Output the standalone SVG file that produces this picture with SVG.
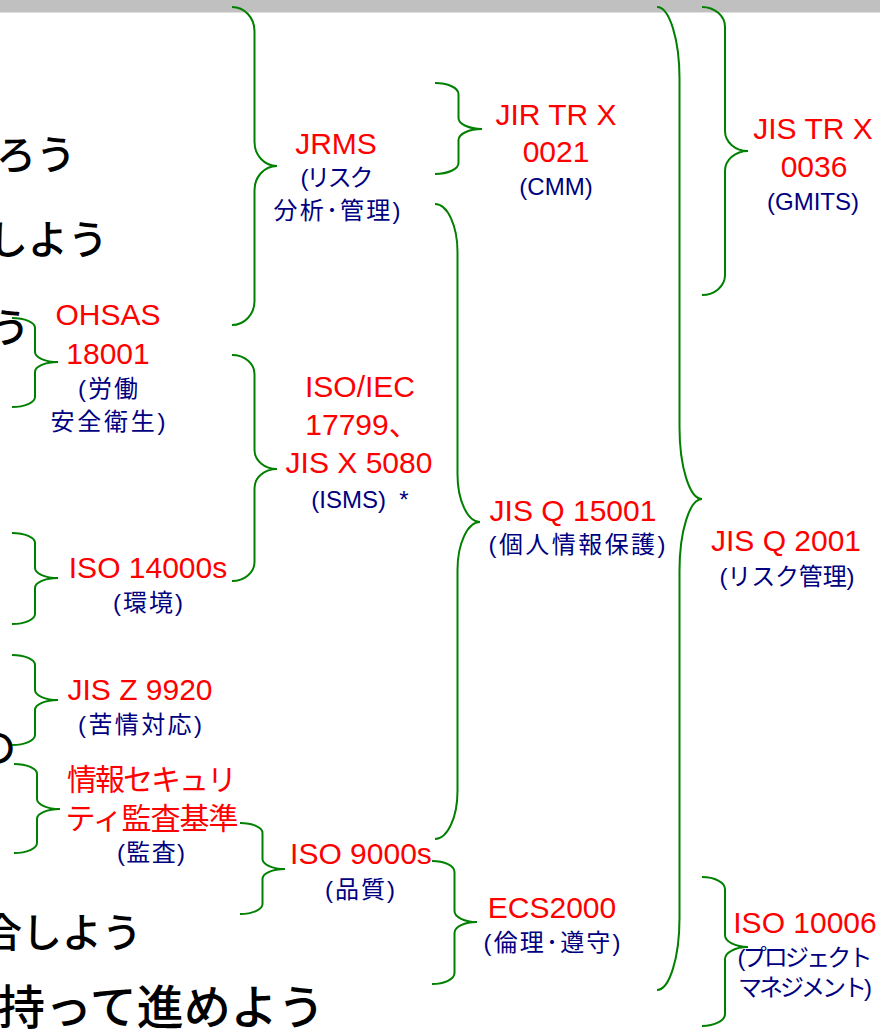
<svg xmlns="http://www.w3.org/2000/svg" width="888" height="1032" viewBox="0 0 888 1032">
<style>
.red{font-family:"Liberation Sans","Noto Sans CJK JP",sans-serif;font-size:30px;fill:#FF0000;text-anchor:middle}
.navy{font-family:"Liberation Sans","Noto Sans CJK JP",sans-serif;font-size:24px;fill:#000080;text-anchor:middle}
.big{font-family:"Noto Sans CJK JP",sans-serif;font-size:40px;font-weight:500;fill:#000000}
.brace{fill:none;stroke:#008000;stroke-width:2}
</style>
<rect x="0" y="0" width="880" height="12.5" fill="#C0C0C0"/>
<g id="slide-text">
<text class="big" x="-4" y="169">ろう</text>
<text class="big" x="-12" y="254">しよう</text>
<text class="big" x="-10" y="342">う</text>
<text class="big" x="-24" y="762">の</text>
<text class="big" x="-18" y="947">合しよう</text>
<text class="big" x="-2" y="1024" style="font-size:47px">持って進めよう</text>
</g>
<g id="connectors">
<path class="brace" d="M232,7 A22.5,24 0 0 1 254.5,31 L254.5,142 A22.5,24 0 0 0 277,166 A22.5,24 0 0 0 254.5,190 L254.5,301 A22.5,24 0 0 1 232,325"/>
<path class="brace" d="M12,318 A23,10 0 0 1 35,328 L35,352 A23,10 0 0 0 58,362 A23,10 0 0 0 35,372 L35,397 A23,10 0 0 1 12,407"/>
<path class="brace" d="M12,533 A23,10 0 0 1 35,543 L35,568 A23,10 0 0 0 58,578 A23,10 0 0 0 35,588 L35,614 A23,10 0 0 1 12,624"/>
<path class="brace" d="M12,655 A23,10 0 0 1 35,665 L35,690 A23,10 0 0 0 58,700 A23,10 0 0 0 35,710 L35,735 A23,10 0 0 1 12,745"/>
<path class="brace" d="M14,764 A23,10 0 0 1 37,774 L37,799 A23,10 0 0 0 60,809 A23,10 0 0 0 37,819 L37,843 A23,10 0 0 1 14,853"/>
<path class="brace" d="M232,355 A22.5,19 0 0 1 254.5,374 L254.5,450 A22.5,19 0 0 0 277,469 A22.5,19 0 0 0 254.5,488 L254.5,562 A22.5,19 0 0 1 232,581"/>
<path class="brace" d="M240,823 A22.5,10 0 0 1 262.5,833 L262.5,859 A22.5,10 0 0 0 285,869 A22.5,10 0 0 0 262.5,879 L262.5,904 A22.5,10 0 0 1 240,914"/>
<path class="brace" d="M435,83 A23.5,11 0 0 1 458.5,94 L458.5,118 A23.5,11 0 0 0 482,129 A23.5,11 0 0 0 458.5,140 L458.5,163 A23.5,11 0 0 1 435,174"/>
<path class="brace" d="M435,204 A22.5,48 0 0 1 457.5,252 L457.5,474 A22.5,48 0 0 0 480,522 A22.5,48 0 0 0 457.5,570 L457.5,791 A22.5,48 0 0 1 435,839"/>
<path class="brace" d="M432,861 A22.5,11 0 0 1 454.5,872 L454.5,911 A22.5,11 0 0 0 477,922 A22.5,11 0 0 0 454.5,933 L454.5,973 A22.5,11 0 0 1 432,984"/>
<path class="brace" d="M657,7 A22.5,72 0 0 1 679.5,79 L679.5,427 A22.5,72 0 0 0 702,499 A22.5,72 0 0 0 679.5,571 L679.5,918 A22.5,72 0 0 1 657,990"/>
<path class="brace" d="M702,7 A23,20 0 0 1 725,27 L725,131 A23,20 0 0 0 748,151 A23,20 0 0 0 725,171 L725,275 A23,20 0 0 1 702,295"/>
<path class="brace" d="M702,877 A23,12 0 0 1 725,889 L725,935 A23,12 0 0 0 748,947 A23,12 0 0 0 725,959 L725,1014 A23,12 0 0 1 702,1026"/>
</g>
<g id="jrms">
<text class="red" x="336" y="154">JRMS</text>
<text class="navy" x="337" y="186" textLength="73">(リスク</text>
<text class="navy" x="337" y="219" textLength="127">分析･管理)</text>
</g>
<g id="jir-tr-x-0021">
<text class="red" x="556" y="125">JIR TR X</text>
<text class="red" x="556" y="162">0021</text>
<text class="navy" x="556" y="195">(CMM)</text>
</g>
<g id="isms">
<text class="red" x="360" y="397">ISO/IEC</text>
<text class="red" x="362" y="435">17799、</text>
<text class="red" x="359" y="473">JIS X 5080</text>
<text class="navy" x="360" y="508" xml:space="preserve">(ISMS)  *</text>
</g>
<g id="jis-q-15001">
<text class="red" x="573" y="521">JIS Q 15001</text>
<text class="navy" x="577" y="553" textLength="177">(個人情報保護)</text>
</g>
<g id="ohsas">
<text class="red" x="108" y="325">OHSAS</text>
<text class="red" x="108" y="364">18001</text>
<text class="navy" x="108" y="397" textLength="60">(労働</text>
<text class="navy" x="108" y="430" textLength="115">安全衛生)</text>
</g>
<g id="iso-14000s">
<text class="red" x="148" y="578">ISO 14000s</text>
<text class="navy" x="148" y="611" textLength="70">(環境)</text>
</g>
<g id="jis-z-9920">
<text class="red" x="140" y="700">JIS Z 9920</text>
<text class="navy" x="140" y="733" textLength="124">(苦情対応)</text>
</g>
<g id="audit">
<text class="red" x="152" y="790" textLength="170">情報セキュリ</text>
<text class="red" x="152" y="829" textLength="173">ティ監査基準</text>
<text class="navy" x="151" y="861" textLength="68">(監査)</text>
</g>
<g id="iso-9000s">
<text class="red" x="361" y="864">ISO 9000s</text>
<text class="navy" x="360" y="898" textLength="70">(品質)</text>
</g>
<g id="ecs2000">
<text class="red" x="552" y="918">ECS2000</text>
<text class="navy" x="552" y="951" textLength="137">(倫理･遵守)</text>
</g>
<g id="jis-tr-x-0036">
<text class="red" x="813" y="139">JIS TR X</text>
<text class="red" x="814" y="177">0036</text>
<text class="navy" x="813" y="210">(GMITS)</text>
</g>
<g id="jis-q-2001">
<text class="red" x="786" y="551">JIS Q 2001</text>
<text class="navy" x="787" y="585" textLength="135">(リスク管理)</text>
</g>
<g id="iso-10006">
<text class="red" x="805" y="933">ISO 10006</text>
<text class="navy" x="805" y="966" textLength="135">(プロジェクト</text>
<text class="navy" x="805" y="996" textLength="134">マネジメント)</text>
</g>
</svg>
